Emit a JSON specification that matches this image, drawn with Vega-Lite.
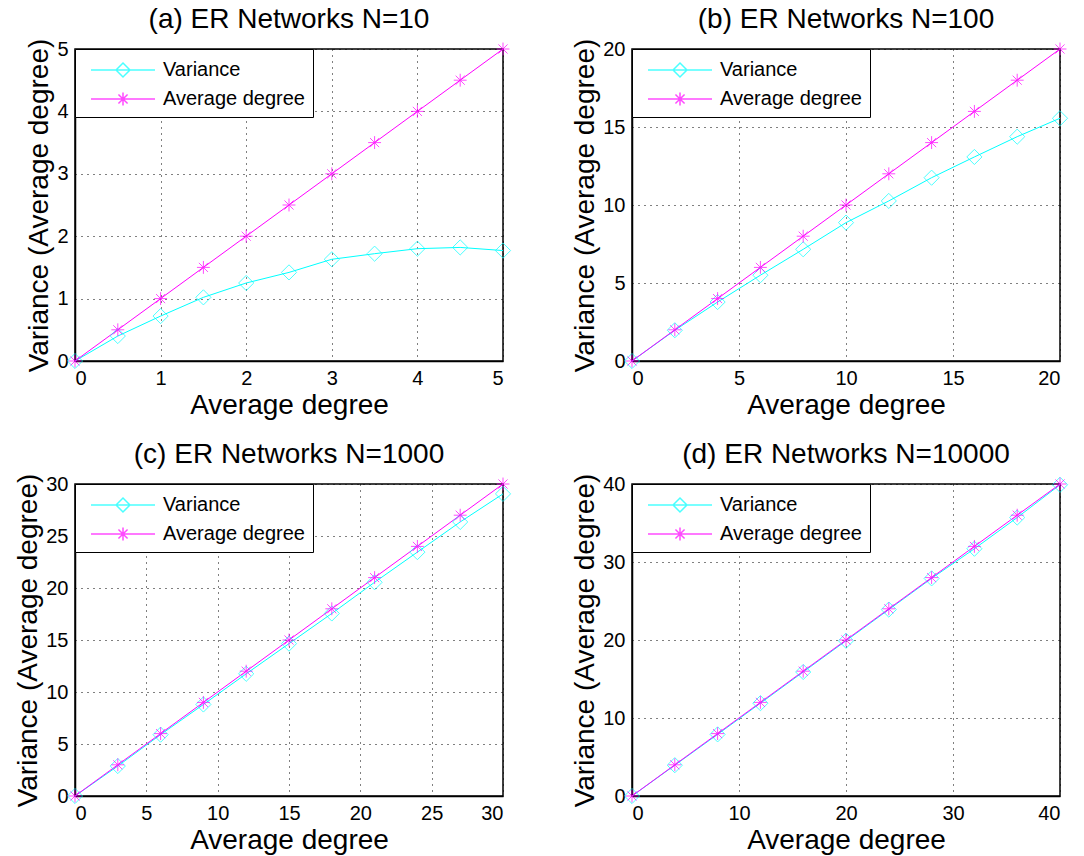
{
  "$schema": "https://vega.github.io/schema/vega-lite/v6.json",
  "background": "white",
  "padding": {"left": 14, "top": 5, "right": 5, "bottom": 0},
  "config": {
    "font": "Liberation Sans",
    "view": {"stroke": "black", "strokeWidth": 1.5},
    "axis": {
      "labelFont": "Liberation Sans", "labelFontSize": 20, "labelColor": "black",
      "titleFont": "Liberation Sans", "titleFontSize": 28, "titleFontWeight": "normal", "titleColor": "black",
      "domainColor": "black", "domainWidth": 1.5, "ticks": false,
      "grid": true, "gridColor": "black", "gridDash": [1, 5], "gridOpacity": 1, "gridWidth": 1,
      "labelPadding": 7, "titlePadding": 3
    },
    "title": {"font": "Liberation Sans", "fontSize": 28, "fontWeight": "normal", "color": "black", "offset": 0, "anchor": "middle"},
    "legend": {"orient": "top-left", "offset": 0, "strokeColor": "black", "fillColor": "white", "padding": 8, "cornerRadius": 0,
      "labelFontSize": 20, "labelFont": "Liberation Sans", "labelColor": "black", "symbolSize": 576, "symbolStrokeWidth": 1.5, "rowPadding": 6, "symbolOffset": 27, "labelOffset": 27}
  },
  "datasets": {
    "a": [
      {"deg": 0, "value": 0, "series": "Variance"}, {"deg": 0.5, "value": 0.4, "series": "Variance"}, {"deg": 1, "value": 0.72, "series": "Variance"}, {"deg": 1.5, "value": 1.02, "series": "Variance"}, {"deg": 2, "value": 1.25, "series": "Variance"}, {"deg": 2.5, "value": 1.42, "series": "Variance"}, {"deg": 3, "value": 1.63, "series": "Variance"}, {"deg": 3.5, "value": 1.72, "series": "Variance"}, {"deg": 4, "value": 1.8, "series": "Variance"}, {"deg": 4.5, "value": 1.82, "series": "Variance"}, {"deg": 5, "value": 1.77, "series": "Variance"},
      {"deg": 0, "value": 0, "series": "Average degree"}, {"deg": 0.5, "value": 0.5, "series": "Average degree"}, {"deg": 1, "value": 1, "series": "Average degree"}, {"deg": 1.5, "value": 1.5, "series": "Average degree"}, {"deg": 2, "value": 2, "series": "Average degree"}, {"deg": 2.5, "value": 2.5, "series": "Average degree"}, {"deg": 3, "value": 3, "series": "Average degree"}, {"deg": 3.5, "value": 3.5, "series": "Average degree"}, {"deg": 4, "value": 4, "series": "Average degree"}, {"deg": 4.5, "value": 4.5, "series": "Average degree"}, {"deg": 5, "value": 5, "series": "Average degree"}
    ],
    "b": [
      {"deg": 0, "value": 0, "series": "Variance"}, {"deg": 2, "value": 1.97, "series": "Variance"}, {"deg": 4, "value": 3.78, "series": "Variance"}, {"deg": 6, "value": 5.5, "series": "Variance"}, {"deg": 8, "value": 7.16, "series": "Variance"}, {"deg": 10, "value": 8.87, "series": "Variance"}, {"deg": 12, "value": 10.26, "series": "Variance"}, {"deg": 14, "value": 11.75, "series": "Variance"}, {"deg": 16, "value": 13.08, "series": "Variance"}, {"deg": 18, "value": 14.38, "series": "Variance"}, {"deg": 20, "value": 15.56, "series": "Variance"},
      {"deg": 0, "value": 0, "series": "Average degree"}, {"deg": 2, "value": 2, "series": "Average degree"}, {"deg": 4, "value": 4, "series": "Average degree"}, {"deg": 6, "value": 6, "series": "Average degree"}, {"deg": 8, "value": 8, "series": "Average degree"}, {"deg": 10, "value": 10, "series": "Average degree"}, {"deg": 12, "value": 12, "series": "Average degree"}, {"deg": 14, "value": 14, "series": "Average degree"}, {"deg": 16, "value": 16, "series": "Average degree"}, {"deg": 18, "value": 18, "series": "Average degree"}, {"deg": 20, "value": 20, "series": "Average degree"}
    ],
    "c": [
      {"deg": 0, "value": 0, "series": "Variance"}, {"deg": 3, "value": 2.88, "series": "Variance"}, {"deg": 6, "value": 5.9, "series": "Variance"}, {"deg": 9, "value": 8.8, "series": "Variance"}, {"deg": 12, "value": 11.75, "series": "Variance"}, {"deg": 15, "value": 14.65, "series": "Variance"}, {"deg": 18, "value": 17.55, "series": "Variance"}, {"deg": 21, "value": 20.55, "series": "Variance"}, {"deg": 24, "value": 23.45, "series": "Variance"}, {"deg": 27, "value": 26.35, "series": "Variance"}, {"deg": 30, "value": 29.05, "series": "Variance"},
      {"deg": 0, "value": 0, "series": "Average degree"}, {"deg": 3, "value": 3, "series": "Average degree"}, {"deg": 6, "value": 6, "series": "Average degree"}, {"deg": 9, "value": 9, "series": "Average degree"}, {"deg": 12, "value": 12, "series": "Average degree"}, {"deg": 15, "value": 15, "series": "Average degree"}, {"deg": 18, "value": 18, "series": "Average degree"}, {"deg": 21, "value": 21, "series": "Average degree"}, {"deg": 24, "value": 24, "series": "Average degree"}, {"deg": 27, "value": 27, "series": "Average degree"}, {"deg": 30, "value": 30, "series": "Average degree"}
    ],
    "d": [
      {"deg": 0, "value": 0, "series": "Variance"}, {"deg": 4, "value": 3.95, "series": "Variance"}, {"deg": 8, "value": 7.9, "series": "Variance"}, {"deg": 12, "value": 11.9, "series": "Variance"}, {"deg": 16, "value": 15.9, "series": "Variance"}, {"deg": 20, "value": 19.9, "series": "Variance"}, {"deg": 24, "value": 23.9, "series": "Variance"}, {"deg": 28, "value": 27.9, "series": "Variance"}, {"deg": 32, "value": 31.7, "series": "Variance"}, {"deg": 36, "value": 35.7, "series": "Variance"}, {"deg": 40, "value": 39.9, "series": "Variance"},
      {"deg": 0, "value": 0, "series": "Average degree"}, {"deg": 4, "value": 4, "series": "Average degree"}, {"deg": 8, "value": 8, "series": "Average degree"}, {"deg": 12, "value": 12, "series": "Average degree"}, {"deg": 16, "value": 16, "series": "Average degree"}, {"deg": 20, "value": 20, "series": "Average degree"}, {"deg": 24, "value": 24, "series": "Average degree"}, {"deg": 28, "value": 28, "series": "Average degree"}, {"deg": 32, "value": 32, "series": "Average degree"}, {"deg": 36, "value": 36, "series": "Average degree"}, {"deg": 40, "value": 40, "series": "Average degree"}
    ]
  },
  "columns": 2,
  "spacing": {"column": 57, "row": 20},
  "resolve": {"scale": {"x": "independent", "y": "independent", "color": "independent", "shape": "independent"}, "legend": {"color": "independent", "shape": "independent"}},
  "concat": [
    {
      "title": "(a) ER Networks N=10",
      "width": 428, "height": 312,
      "data": {"name": "a"},
      "encoding": {
        "x": {"field": "deg", "type": "quantitative", "scale": {"domain": [0, 5], "nice": false}, "axis": {"values": [0, 1, 2, 3, 4, 5], "title": "Average degree"}},
        "y": {"field": "value", "type": "quantitative", "scale": {"domain": [0, 5], "nice": false}, "axis": {"values": [0, 1, 2, 3, 4, 5], "title": "Variance (Average degree)"}},
        "color": {"field": "series", "type": "nominal", "scale": {"domain": ["Variance", "Average degree"], "range": ["#00FFFF", "#FF00FF"]}, "legend": {"title": null}}
      },
      "layer": [
        {"mark": {"type": "line", "strokeWidth": 1}},
        {"transform": [{"filter": "datum.series === 'Variance'"}], "mark": {"type": "point", "shape": "diamond", "filled": false, "strokeWidth": 1, "size": 230}},
        {"transform": [{"filter": "datum.series === 'Average degree'"}], "mark": {"type": "point", "shape": "M-0.85,0H0.85M0,-0.85V0.85M-0.6,-0.6L0.6,0.6M-0.6,0.6L0.6,-0.6", "filled": false, "strokeWidth": 1, "size": 230}},
        {"transform": [{"filter": "false"}], "mark": {"type": "point", "filled": false, "strokeWidth": 1.5},
         "encoding": {"shape": {"field": "series", "type": "nominal", "scale": {"domain": ["Variance", "Average degree"], "range": ["M-2.67,0H2.67M0,-0.58L0.58,0L0,0.58L-0.58,0Z", "M-2.67,0H2.67M0,-0.54V0.54M-0.38,-0.38L0.38,0.38M-0.38,0.38L0.38,-0.38"]}, "legend": {"title": null}}}}
      ]
    },
    {
      "title": "(b) ER Networks N=100",
      "width": 428, "height": 312,
      "data": {"name": "b"},
      "encoding": {
        "x": {"field": "deg", "type": "quantitative", "scale": {"domain": [0, 20], "nice": false}, "axis": {"values": [0, 5, 10, 15, 20], "title": "Average degree"}},
        "y": {"field": "value", "type": "quantitative", "scale": {"domain": [0, 20], "nice": false}, "axis": {"values": [0, 5, 10, 15, 20], "title": "Variance (Average degree)"}},
        "color": {"field": "series", "type": "nominal", "scale": {"domain": ["Variance", "Average degree"], "range": ["#00FFFF", "#FF00FF"]}, "legend": {"title": null}}
      },
      "layer": [
        {"mark": {"type": "line", "strokeWidth": 1}},
        {"transform": [{"filter": "datum.series === 'Variance'"}], "mark": {"type": "point", "shape": "diamond", "filled": false, "strokeWidth": 1, "size": 230}},
        {"transform": [{"filter": "datum.series === 'Average degree'"}], "mark": {"type": "point", "shape": "M-0.85,0H0.85M0,-0.85V0.85M-0.6,-0.6L0.6,0.6M-0.6,0.6L0.6,-0.6", "filled": false, "strokeWidth": 1, "size": 230}},
        {"transform": [{"filter": "false"}], "mark": {"type": "point", "filled": false, "strokeWidth": 1.5},
         "encoding": {"shape": {"field": "series", "type": "nominal", "scale": {"domain": ["Variance", "Average degree"], "range": ["M-2.67,0H2.67M0,-0.58L0.58,0L0,0.58L-0.58,0Z", "M-2.67,0H2.67M0,-0.54V0.54M-0.38,-0.38L0.38,0.38M-0.38,0.38L0.38,-0.38"]}, "legend": {"title": null}}}}
      ]
    },
    {
      "title": "(c) ER Networks N=1000",
      "width": 428, "height": 312,
      "data": {"name": "c"},
      "encoding": {
        "x": {"field": "deg", "type": "quantitative", "scale": {"domain": [0, 30], "nice": false}, "axis": {"values": [0, 5, 10, 15, 20, 25, 30], "title": "Average degree"}},
        "y": {"field": "value", "type": "quantitative", "scale": {"domain": [0, 30], "nice": false}, "axis": {"values": [0, 5, 10, 15, 20, 25, 30], "title": "Variance (Average degree)"}},
        "color": {"field": "series", "type": "nominal", "scale": {"domain": ["Variance", "Average degree"], "range": ["#00FFFF", "#FF00FF"]}, "legend": {"title": null}}
      },
      "layer": [
        {"mark": {"type": "line", "strokeWidth": 1}},
        {"transform": [{"filter": "datum.series === 'Variance'"}], "mark": {"type": "point", "shape": "diamond", "filled": false, "strokeWidth": 1, "size": 230}},
        {"transform": [{"filter": "datum.series === 'Average degree'"}], "mark": {"type": "point", "shape": "M-0.85,0H0.85M0,-0.85V0.85M-0.6,-0.6L0.6,0.6M-0.6,0.6L0.6,-0.6", "filled": false, "strokeWidth": 1, "size": 230}},
        {"transform": [{"filter": "false"}], "mark": {"type": "point", "filled": false, "strokeWidth": 1.5},
         "encoding": {"shape": {"field": "series", "type": "nominal", "scale": {"domain": ["Variance", "Average degree"], "range": ["M-2.67,0H2.67M0,-0.58L0.58,0L0,0.58L-0.58,0Z", "M-2.67,0H2.67M0,-0.54V0.54M-0.38,-0.38L0.38,0.38M-0.38,0.38L0.38,-0.38"]}, "legend": {"title": null}}}}
      ]
    },
    {
      "title": "(d) ER Networks N=10000",
      "width": 428, "height": 312,
      "data": {"name": "d"},
      "encoding": {
        "x": {"field": "deg", "type": "quantitative", "scale": {"domain": [0, 40], "nice": false}, "axis": {"values": [0, 10, 20, 30, 40], "title": "Average degree"}},
        "y": {"field": "value", "type": "quantitative", "scale": {"domain": [0, 40], "nice": false}, "axis": {"values": [0, 10, 20, 30, 40], "title": "Variance (Average degree)"}},
        "color": {"field": "series", "type": "nominal", "scale": {"domain": ["Variance", "Average degree"], "range": ["#00FFFF", "#FF00FF"]}, "legend": {"title": null}}
      },
      "layer": [
        {"mark": {"type": "line", "strokeWidth": 1}},
        {"transform": [{"filter": "datum.series === 'Variance'"}], "mark": {"type": "point", "shape": "diamond", "filled": false, "strokeWidth": 1, "size": 230}},
        {"transform": [{"filter": "datum.series === 'Average degree'"}], "mark": {"type": "point", "shape": "M-0.85,0H0.85M0,-0.85V0.85M-0.6,-0.6L0.6,0.6M-0.6,0.6L0.6,-0.6", "filled": false, "strokeWidth": 1, "size": 230}},
        {"transform": [{"filter": "false"}], "mark": {"type": "point", "filled": false, "strokeWidth": 1.5},
         "encoding": {"shape": {"field": "series", "type": "nominal", "scale": {"domain": ["Variance", "Average degree"], "range": ["M-2.67,0H2.67M0,-0.58L0.58,0L0,0.58L-0.58,0Z", "M-2.67,0H2.67M0,-0.54V0.54M-0.38,-0.38L0.38,0.38M-0.38,0.38L0.38,-0.38"]}, "legend": {"title": null}}}}
      ]
    }
  ]
}
